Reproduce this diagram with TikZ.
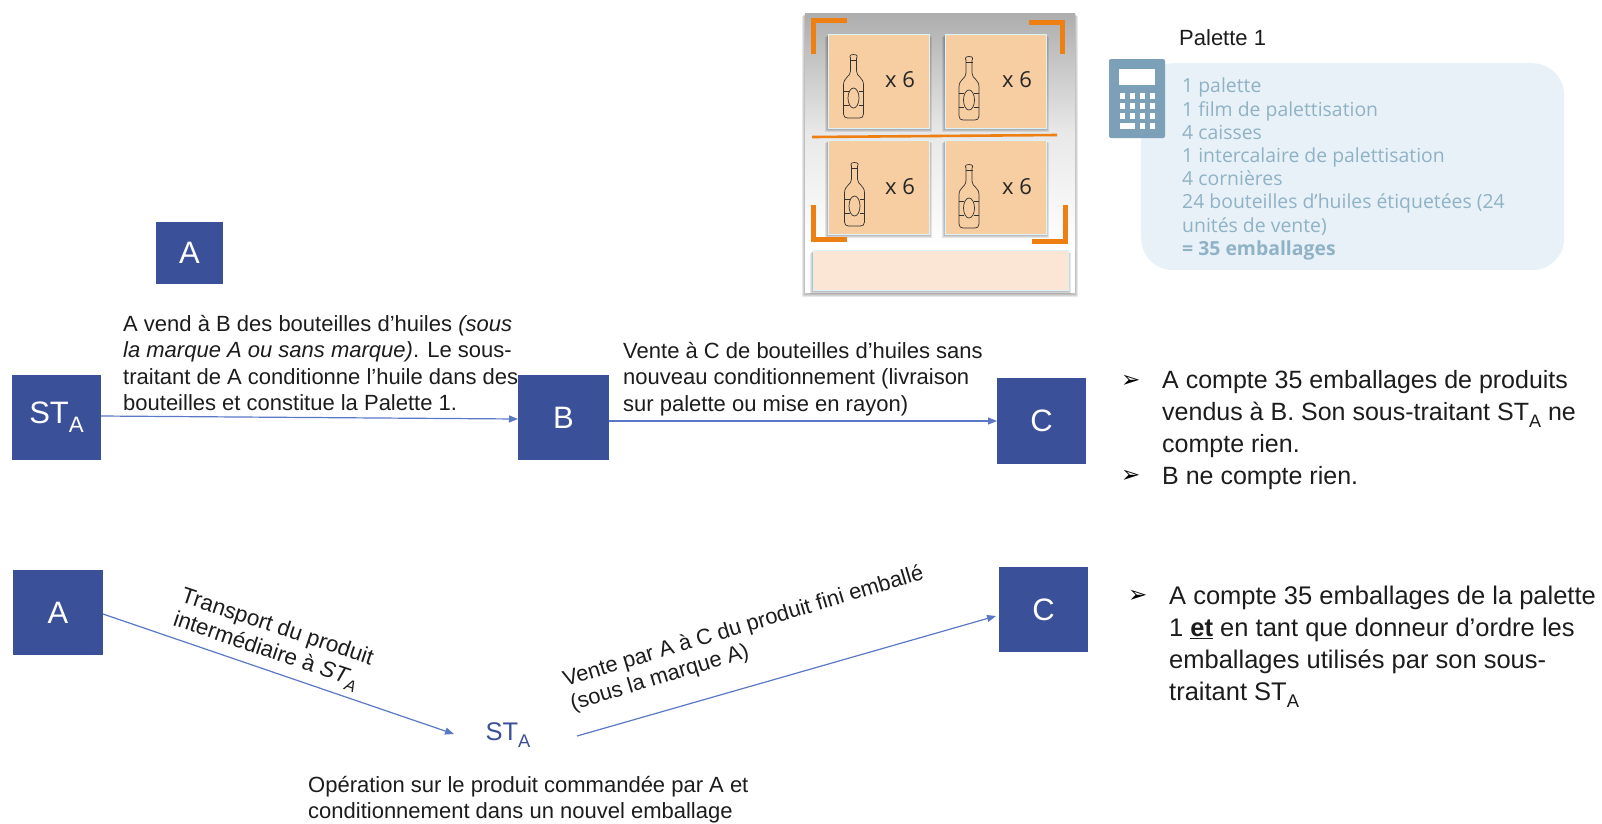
\documentclass[tikz,border=0pt]{standalone}
\usepackage{fontspec}
\setmainfont{Liberation Sans}
\newfontfamily\opensans{Open Sans}
\newfontfamily\dejavu{DejaVu Sans}
\usetikzlibrary{arrows.meta,shadows}
\definecolor{boxblue}{HTML}{3A5098}
\definecolor{arrowblue}{HTML}{5B78C6}
\definecolor{tealtxt}{HTML}{8FB2C6}
\definecolor{tealbg}{HTML}{E8F1F7}
\definecolor{calc}{HTML}{7BA0B8}
\definecolor{cornerorange}{HTML}{EE7F12}
\definecolor{crate}{HTML}{F7CDA2}
\definecolor{palettebg}{HTML}{FBE5D4}
\definecolor{inktxt}{HTML}{1C1C1C}
\newcommand{\subA}{\raisebox{-.28em}{\fontsize{.72em}{1em}\selectfont A}}
\newcommand{\bul}{{\dejavu\fontsize{23}{23}\selectfont ➢}}
\tikzset{
  actor/.style={draw=none,fill=boxblue,text=white,font=\fontsize{31}{32}\selectfont,inner sep=0pt,minimum width=#1},
  flow/.style={draw=arrowblue,line width=1.2pt,-{Triangle[length=9pt,width=7pt]}},
  para/.style={anchor=north west,align=left,inner sep=0pt,text=inktxt,font=\fontsize{22}{26.4}\selectfont},
  side/.style={anchor=north west,align=left,inner sep=0pt,text=inktxt,font=\fontsize{25}{32}\selectfont},
  crate box/.style={fill=crate,draw=white!85!cyan,line width=1pt},
  corner/.style={draw=cornerorange,line width=5pt,line join=miter},
  bottleline/.style={draw=black!80,line width=.7pt,line join=round},
  x6/.style={inner sep=0pt,text=black!85,font=\opensans\fontsize{22}{24}\selectfont},
}
\newcommand{\bottle}[2]{%
 \begin{scope}[shift={(#1,#2)},bottleline]
  \draw (-3.5,0) -- (-3.5,-1) .. controls (-3.5,-3) and (3.5,-3) .. (3.5,-1) -- (3.5,0) -- (3,1) -- (3,14)
     .. controls (3,20) and (10,20) .. (10,28) -- (10,57) .. controls (10,60) and (8,61) .. (6,61)
     -- (-6,61) .. controls (-8,61) and (-10,60) .. (-10,57) -- (-10,28) .. controls (-10,20) and (-3,20) .. (-3,14) -- (-3,1) -- cycle;
  \draw (-3.5,3) -- (3.5,3);
  \draw (-10,34) -- (-5,34) (10,34) -- (5,34) (-10,48) -- (-5,48) (10,48) -- (5,48);
  \draw (0,41) ellipse (5.5pt and 10pt);
 \end{scope}}
\newcommand{\softshadow}[4]{%
 \foreach \k in {3,2,1}{\fill[black,opacity=.09] (#1-\k,#2+\k) rectangle (#3+\k,#4+\k+1);}}
\begin{document}
\begin{tikzpicture}[x=1pt,y=-1pt]
\useasboundingbox (0,0) rectangle (1602,823);
% pallet picture
\softshadow{805}{13}{1075}{293}
\fill[white] (805,13) rectangle (1075,293);
\shade[top color=black!32,bottom color=white,middle color=black!9] (805,13) rectangle (1075,250);
\softshadow{813}{250}{1068}{290}
\fill[palettebg,draw=white!85!cyan,line width=1pt] (813,250) rectangle (1068,290);
\foreach \x/\y in {828/34,945/34,828/140,945/140}{
  \softshadow{\x}{\y}{\x+101}{\y+94}
  \fill[crate box] (\x,\y) rectangle ++(101,94);}
\draw[cornerorange,line width=2.6pt] (812,137) -- (1057,135);
\draw[corner] (847,20) -- (813,20) -- (813,54);
\draw[corner] (1029,22) -- (1062,22) -- (1062,54);
\draw[corner] (813,205) -- (813,239) -- (847,239);
\draw[corner] (1032,241) -- (1065,241) -- (1065,205);
\bottle{853.5}{57}\bottle{969}{59}\bottle{854.5}{165}\bottle{969}{167}
\node[x6] (xa) at (900,80) {x 6};
\node[x6] (xb) at (1017,80) {x 6};
\node[x6] (xc) at (900,187) {x 6};
\node[x6] (xd) at (1017,187) {x 6};
% legend card
\node[anchor=base west,inner sep=0pt,text=inktxt,font=\fontsize{22}{24}\selectfont] (paltitle) at (1179,45) {Palette 1};
\node[anchor=north west,draw=none,fill=tealbg,rounded corners=32pt,minimum width=423pt,minimum height=207pt,inner sep=0pt] (card) at (1141,63) {};
\node[anchor=north west,align=left,inner sep=0pt,text=tealtxt,font=\opensans\fontsize{19.4}{23.2}\selectfont] (cardtxt) at (1182,78) {1 palette\\1 film de palettisation\\4 caisses\\1 intercalaire de palettisation\\4 cornières\\24 bouteilles d’huiles étiquetées (24\\unités de vente)\\\textbf{= 35 emballages}};
\fill[calc,rounded corners=2pt] (1109,59) rectangle (1165,138);
\fill[white] (1119,69) rectangle (1155,85);
\foreach \r in {93,103,113}{\foreach \c in {1119.5,1129.5,1139.5,1149.5}{\fill[white] (\c,\r) rectangle ++(5.5,5.5);}}
\fill[white] (1119.5,123) rectangle ++(15.5,5.5);
\fill[white] (1139.5,123) rectangle ++(5.5,5.5);
\fill[white] (1149.5,123) rectangle ++(5.5,5.5);
% actors
\node[actor=67pt,minimum height=62pt] (atop) at (189.5,253) {A};
\node[actor=89pt,minimum height=85pt] (sta) at (56.5,417.5) {ST\subA};
\node[actor=91pt,minimum height=85pt] (b) at (563.5,417.5) {B};
\node[actor=89pt,minimum height=86pt] (c) at (1041.5,421) {C};
\node[actor=90pt,minimum height=85pt] (a) at (58,612.5) {A};
\node[actor=89pt,minimum height=85pt] (c2) at (1043.5,609.5) {C};
\node[inner sep=0pt,text=boxblue,font=\fontsize{25.5}{28}\selectfont] (stb) at (508,735) {ST\subA};
% connectors
\coordinate (s1) at (101,416); \coordinate (e1) at (518,419);
\coordinate (s2) at (609,421); \coordinate (e2) at (997,421);
\coordinate (s3) at (103,614); \coordinate (e3) at (454,734);
\coordinate (s4) at (577,736); \coordinate (e4) at (996,616);
\draw[flow] (s1) -- (e1);
\draw[flow] (s2) -- (e2);
\draw[flow] (s3) -- (e3);
\draw[flow] (s4) -- (e4);
% paragraphs
\node[para] (p1) at (123,315) {A vend à B des bouteilles d’huiles \textit{(sous}\\\textit{la marque A ou sans marque)}. Le sous-\\traitant de A conditionne l’huile dans des\\bouteilles et constitue la Palette 1.};
\node[para] (p2) at (623,342) {Vente à C de bouteilles d’huiles sans\\nouveau conditionnement (livraison\\sur palette ou mise en rayon)};
\node[para,anchor=north west,rotate=-18.5,font=\fontsize{22.4}{25}\selectfont] (p3) at (185,586) {Transport du produit\\intermédiaire à \textit{ST\subA}};
\node[para,rotate=16.7,anchor=south west,font=\fontsize{21.9}{25}\selectfont] (p4) at (574,715) {Vente par A à C du produit fini emballé\\(sous la marque A)};
\node[para] (p5) at (308,776) {Opération sur le produit commandée par A et\\conditionnement dans un nouvel emballage};
% bullets
\node[anchor=west,inner sep=0pt] (b1) at (1121,381) {\bul};
\node[anchor=west,inner sep=0pt] (b2) at (1121,476) {\bul};
\node[anchor=west,inner sep=0pt] (b3) at (1128,596) {\bul};
\node[side] (r1) at (1162,370) {A compte 35 emballages de produits\\vendus à B. Son sous-traitant ST\subA{} ne\\compte rien.\\B ne compte rien.};
\node[side,font=\fontsize{25.5}{32}\selectfont] (r2) at (1169,586) {A compte 35 emballages de la palette\\1 \underline{\textbf{et}} en tant que donneur d’ordre les\\emballages utilisés par son sous-\\traitant ST\subA};
\end{tikzpicture}
\end{document}
